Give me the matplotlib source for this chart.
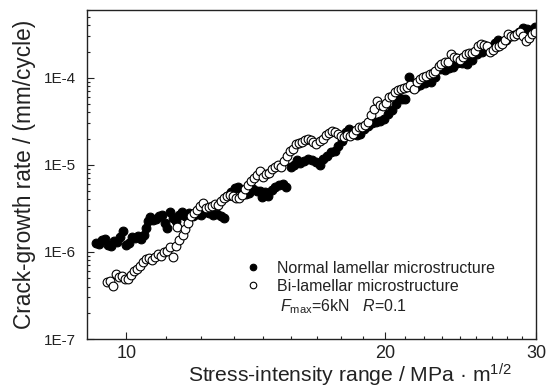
import numpy as np
import matplotlib
matplotlib.use("Agg")
from matplotlib import pyplot as plt
from matplotlib.ticker import FixedLocator, FuncFormatter, LogLocator, NullFormatter

# Normal lamellar microstructure (filled circles)
normal_dk = [9.21, 9.29, 9.36, 9.44, 9.52, 9.59, 9.67, 9.75, 9.83, 9.91, 9.99, 10.06, 10.15, 10.23,
             10.31, 10.40, 10.48, 10.54, 10.59, 10.65, 10.74, 10.83, 10.91, 11.00, 11.09, 11.15, 11.24,
             11.33, 11.42, 11.52, 11.61, 11.70, 11.83, 11.96, 12.08, 12.21, 12.35, 12.49, 12.62, 12.75,
             12.89, 13.00, 13.10, 13.25, 13.39, 13.50, 13.64, 13.79, 13.90, 14.05, 14.20, 14.31, 14.39,
             14.51, 14.62, 14.78, 14.90, 15.07, 15.23, 15.35, 15.55, 15.68, 15.81, 15.94, 16.11, 16.28,
             16.46, 16.64, 16.82, 16.95, 17.13, 17.32, 17.51, 17.65, 17.84, 18.03, 18.18, 18.37, 18.57,
             18.72, 18.93, 19.13, 19.33, 19.54, 19.76, 19.97, 20.19, 20.41, 20.63, 20.74, 20.96, 21.13,
             21.36, 21.59, 21.77, 22.00, 22.30, 22.61, 22.91, 23.22, 23.48, 23.73, 23.99, 24.25, 24.58,
             24.91, 25.24, 25.58, 25.93, 26.28, 26.56, 26.85, 27.07, 27.36, 27.66, 27.96, 28.26, 28.64,
             28.95, 29.26, 29.58, 29.90]
normal_rate = [1.27e-6, 1.24e-6, 1.38e-6, 1.42e-6, 1.21e-6, 1.18e-6, 1.35e-6, 1.31e-6, 1.50e-6, 1.75e-6,
               1.21e-6, 1.27e-6, 1.50e-6, 1.46e-6, 1.54e-6, 1.42e-6, 1.58e-6, 1.90e-6, 2.27e-6, 2.53e-6,
               2.34e-6, 2.40e-6, 2.60e-6, 2.67e-6, 2.17e-6, 1.90e-6, 2.89e-6, 2.47e-6, 2.27e-6, 2.67e-6,
               2.89e-6, 2.60e-6, 2.81e-6, 2.60e-6, 2.74e-6, 2.67e-6, 2.89e-6, 2.81e-6, 2.67e-6, 2.74e-6,
               2.60e-6, 2.47e-6, 4.40e-6, 4.90e-6, 5.43e-6, 5.58e-6, 5.01e-6, 4.64e-6, 4.77e-6, 5.29e-6,
               5.01e-6, 5.01e-6, 4.28e-6, 4.90e-6, 4.40e-6, 5.15e-6, 5.58e-6, 5.87e-6, 6.03e-6, 5.58e-6,
               9.44e-6, 9.93e-6, 1.13e-5, 1.05e-5, 1.10e-5, 1.16e-5, 1.13e-5, 1.08e-5, 9.93e-6, 1.16e-5,
               1.26e-5, 1.40e-5, 1.44e-5, 1.64e-5, 1.87e-5, 2.37e-5, 2.57e-5, 2.31e-5, 2.19e-5, 2.25e-5,
               2.57e-5, 2.78e-5, 3.01e-5, 3.09e-5, 3.17e-5, 3.34e-5, 3.81e-5, 4.24e-5, 4.95e-5, 5.96e-5,
               5.65e-5, 5.65e-5, 1.03e-4, 7.55e-5, 7.75e-5, 8.16e-5, 8.61e-5, 8.84e-5, 1.03e-4, 1.27e-4,
               1.24e-4, 1.31e-4, 1.34e-4, 1.46e-4, 1.46e-4, 1.42e-4, 1.62e-4, 1.85e-4, 2.00e-4, 2.17e-4,
               2.23e-4, 2.53e-4, 2.74e-4, 2.53e-4, 2.74e-4, 3.05e-4, 3.13e-4, 3.37e-4, 3.76e-4, 3.66e-4,
               3.56e-4, 3.86e-4]

# Bi-lamellar microstructure (open circles)
bi_dk = [9.49, 9.57, 9.64, 9.72, 9.80, 9.88, 9.96, 10.04, 10.12, 10.20, 10.29, 10.37, 10.45, 10.54,
         10.62, 10.71, 10.80, 10.88, 10.97, 11.06, 11.15, 11.24, 11.33, 11.42, 11.45, 11.52, 11.64,
         11.70, 11.80, 11.89, 11.99, 12.08, 12.18, 12.28, 12.38, 12.49, 12.58, 12.68, 12.79, 12.89,
         13.00, 13.10, 13.21, 13.32, 13.43, 13.53, 13.64, 13.75, 13.86, 13.98, 14.08, 14.20, 14.31,
         14.43, 14.55, 14.66, 14.78, 14.90, 15.03, 15.15, 15.27, 15.39, 15.51, 15.64, 15.76, 15.89,
         16.02, 16.15, 16.28, 16.41, 16.50, 16.64, 16.82, 16.95, 17.09, 17.22, 17.37, 17.51, 17.65,
         17.79, 17.93, 18.08, 18.23, 18.37, 18.52, 18.67, 18.82, 18.98, 19.13, 19.28, 19.44, 19.60,
         19.76, 19.92, 20.08, 20.25, 20.41, 20.57, 20.74, 20.91, 21.07, 21.25, 21.42, 21.65, 21.83,
         22.00, 22.18, 22.36, 22.55, 22.73, 22.91, 23.10, 23.28, 23.48, 23.67, 23.86, 24.05, 24.25,
         24.45, 24.64, 24.84, 25.04, 25.24, 25.44, 25.65, 25.86, 26.07, 26.28, 26.49, 26.70, 26.92,
         27.14, 27.36, 27.58, 27.81, 28.03, 28.26, 28.49, 28.71, 28.95, 29.18, 29.42, 29.66, 29.90]
bi_rate = [4.46e-7, 4.58e-7, 4.11e-7, 5.65e-7, 5.09e-7, 5.23e-7, 4.83e-7, 4.83e-7, 5.50e-7, 5.96e-7,
           6.44e-7, 6.96e-7, 7.74e-7, 8.38e-7, 8.61e-7, 8.16e-7, 8.84e-7, 9.56e-7, 9.06e-7, 1.01e-6,
           1.03e-6, 1.15e-6, 8.84e-7, 1.18e-6, 1.95e-6, 1.38e-6, 1.58e-6, 1.85e-6, 2.17e-6, 2.60e-6,
           2.81e-6, 3.05e-6, 3.37e-6, 3.66e-6, 3.21e-6, 3.30e-6, 3.37e-6, 3.56e-6, 3.47e-6, 3.85e-6,
           4.17e-6, 4.40e-6, 4.52e-6, 4.40e-6, 4.17e-6, 4.17e-6, 4.52e-6, 5.29e-6, 5.87e-6, 6.52e-6,
           7.07e-6, 7.64e-6, 8.48e-6, 7.26e-6, 7.85e-6, 8.06e-6, 8.95e-6, 9.44e-6, 9.93e-6, 9.44e-6,
           1.10e-5, 1.26e-5, 1.44e-5, 1.52e-5, 1.73e-5, 1.78e-5, 1.82e-5, 1.92e-5, 1.97e-5, 1.92e-5,
           1.82e-5, 1.73e-5, 1.87e-5, 1.97e-5, 2.19e-5, 2.31e-5, 2.44e-5, 2.37e-5, 2.25e-5, 2.13e-5,
           2.08e-5, 2.19e-5, 2.13e-5, 2.25e-5, 2.50e-5, 2.71e-5, 2.71e-5, 2.85e-5, 3.09e-5, 3.71e-5,
           4.35e-5, 5.36e-5, 4.82e-5, 4.69e-5, 5.08e-5, 5.96e-5, 6.11e-5, 6.79e-5, 7.16e-5, 7.35e-5,
           7.55e-5, 7.75e-5, 8.16e-5, 7.35e-5, 8.84e-5, 9.56e-5, 1.01e-4, 1.06e-4, 1.09e-4, 1.12e-4,
           1.21e-4, 1.35e-4, 1.42e-4, 1.50e-4, 1.50e-4, 1.85e-4, 1.71e-4, 1.67e-4, 1.62e-4, 1.71e-4,
           1.85e-4, 1.90e-4, 1.95e-4, 2.05e-4, 2.34e-4, 2.47e-4, 2.40e-4, 2.34e-4, 2.00e-4, 2.11e-4,
           2.28e-4, 2.34e-4, 2.47e-4, 2.74e-4, 3.21e-4, 3.05e-4, 3.05e-4, 3.21e-4, 3.37e-4, 3.05e-4,
           2.67e-4, 2.89e-4, 3.21e-4, 3.37e-4]

labels = ["Normal lamellar microstructure", "Bi-lamellar microstructure"]
y_ticks = [1e-7, 1e-6, 1e-5, 1e-4]
x_ticks = [10, 20, 30]

plt.rcParams['font.family'] = ['Liberation Sans', 'DejaVu Sans']
plt.rcParams['mathtext.fontset'] = 'custom'
plt.rcParams['mathtext.rm'] = 'Liberation Sans'
plt.rcParams['mathtext.it'] = 'Liberation Sans:italic'
ink = "#222222"

fig = plt.figure(figsize=(5.49, 3.92), dpi=100)
ax = fig.add_axes([0.1585, 0.1352, 0.8178, 0.8393])

ax.plot(normal_dk, normal_rate, "o", ms=6.3, mfc="black", mec="black", mew=0.8, label=labels[0])
ax.plot(bi_dk, bi_rate, "o", ms=6.3, mfc="white", mec="black", mew=0.8, label=labels[1])

ax.set_xscale("log")
ax.set_yscale("log")
ax.set_xlim(9.0, 30)
ax.set_ylim(1e-7, 6e-4)

ax.xaxis.set_major_locator(FixedLocator(x_ticks))
ax.xaxis.set_major_formatter(FuncFormatter(lambda v, p: "%d" % v))
minors = [10 + k * 10 / 9 for k in range(1, 9)] + [20 + k * 10 / 9 for k in range(1, 9)]
ax.xaxis.set_minor_locator(FixedLocator(minors))
ax.xaxis.set_minor_formatter(NullFormatter())

ax.yaxis.set_major_locator(FixedLocator(y_ticks))
ax.yaxis.set_major_formatter(FuncFormatter(lambda v, p: "1E%d" % round(np.log10(v))))
ax.yaxis.set_minor_locator(LogLocator(base=10, subs=np.arange(2, 10)))
ax.yaxis.set_minor_formatter(NullFormatter())

ax.tick_params(which="both", direction="in", color=ink, width=0.8, top=False, right=False)
ax.tick_params(which="major", length=5)
ax.tick_params(which="minor", length=2.5)
ax.tick_params(axis="x", labelsize=13, pad=4.5, labelcolor=ink)
ax.tick_params(axis="y", labelsize=11, pad=8, labelcolor=ink)
for s in ax.spines.values():
    s.set_linewidth(1.0)
    s.set_color(ink)

ax.set_xlabel("Stress-intensity range / MPa · m$^{1/2}$", fontsize=15.2, color=ink)
ax.set_ylabel("Crack-growth rate / (mm/cycle)", fontsize=16.3, color=ink)
ax.xaxis.set_label_coords(0.585, -0.070)
ax.yaxis.set_label_coords(-0.114, 0.5)

ax.legend(loc="center left", bbox_to_anchor=(0.352, 0.188), frameon=False, fontsize=11.5,
          markerscale=0.75, handlelength=1.0, handletextpad=1.0, labelspacing=0.2,
          borderpad=0, borderaxespad=0, labelcolor=ink)
ax.text(0.430, 0.098, "$F_{\\mathrm{max}}$=6kN   $R$=0.1", transform=ax.transAxes,
        fontsize=11.5, color=ink, va="center", ha="left")

fig.savefig("out.png", dpi=100)
